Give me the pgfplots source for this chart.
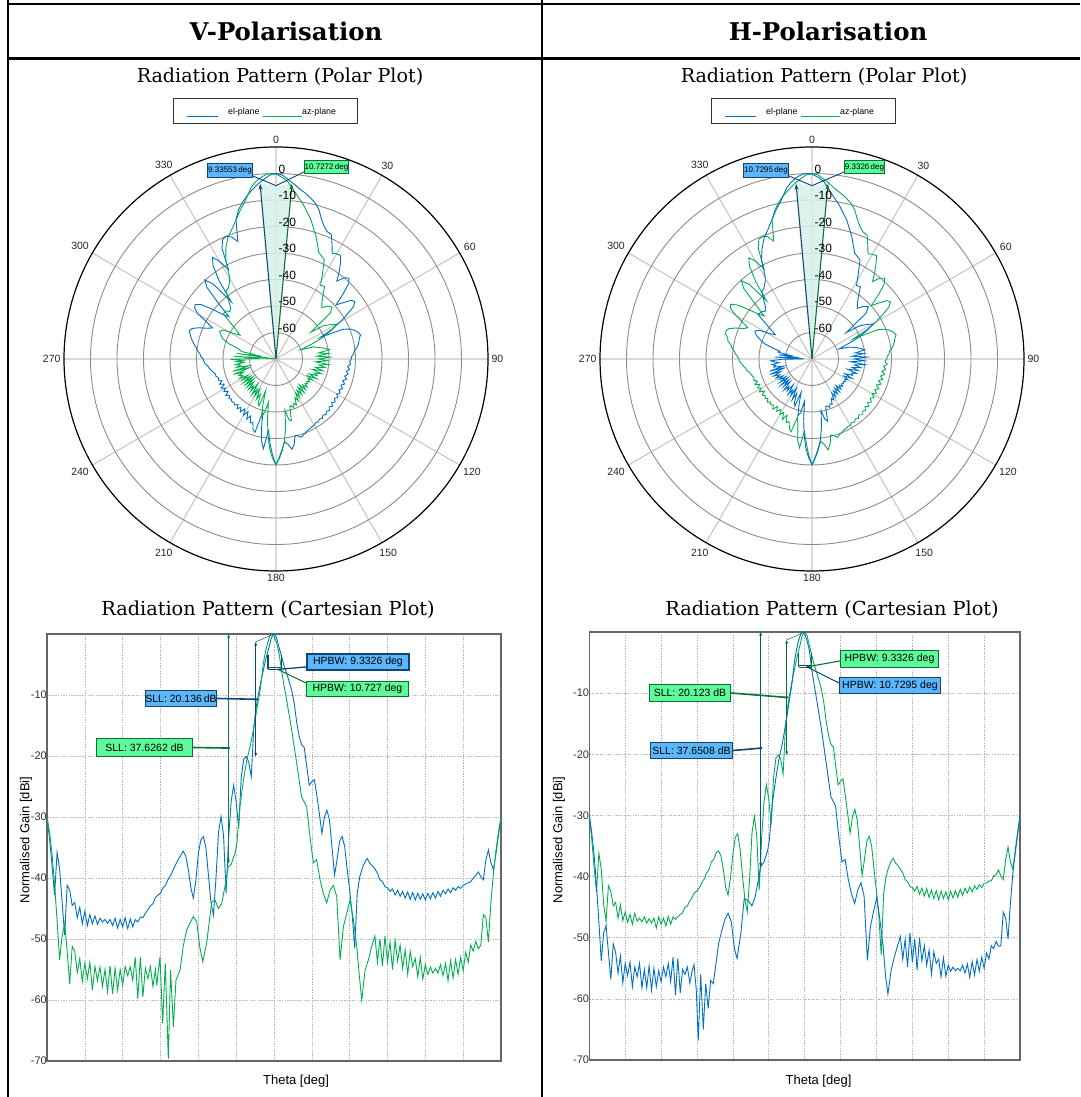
\documentclass[border=0pt]{standalone}
\usepackage{pgfplots}
\pgfplotsset{compat=1.18}
\usepgfplotslibrary{polar}
\usepackage{pgfplotstable}
\usepackage{fontspec}
\setmainfont{DejaVu Serif}
\newfontfamily\sansf{Liberation Sans}
\usetikzlibrary{arrows.meta}

\definecolor{cblue}{RGB}{0,112,200}
\definecolor{cgreen}{RGB}{0,176,80}
\definecolor{bfill}{RGB}{92,182,250}
\definecolor{bdark}{RGB}{18,68,118}
\definecolor{gfill}{RGB}{92,250,152}
\definecolor{gdark}{RGB}{10,112,52}
\definecolor{wedge}{RGB}{214,240,234}

% ---- V-Polarisation, el-plane (blue) ----
\pgfplotstableread[row sep=\\]{
t g\\
-180 -30.0\\ -178 -33.5\\ -176 -38.0\\ -174 -42.8\\ -172 -35.8\\ -170 -38.5\\ -168 -44.0\\ -166 -49.3\\
-164 -41.2\\ -162 -42.0\\ -160 -44.5\\ -158 -44.0\\ -156 -46.5\\ -154 -44.8\\ -152 -47.5\\ -150 -45.5\\
-148 -47.8\\ -146 -46.0\\ -144 -47.5\\ -142 -46.2\\ -140 -47.6\\ -138 -46.6\\ -136 -47.2\\ -134 -46.8\\
-132 -47.4\\ -130 -46.8\\ -128 -47.8\\ -126 -46.6\\ -124 -48.2\\ -122 -46.8\\ -120 -48.0\\ -118 -46.5\\
-116 -48.3\\ -114 -46.7\\ -112 -48.0\\ -110 -46.8\\ -108 -47.2\\ -106 -46.4\\ -104 -46.5\\ -102 -45.8\\
-100 -45.2\\ -98 -44.6\\ -96 -44.2\\ -94 -43.2\\ -92 -42.8\\ -90 -42.5\\ -88 -41.6\\ -86 -41.2\\
-84 -40.2\\ -82 -39.6\\ -80 -38.7\\ -78 -37.8\\ -76 -37.0\\ -74 -36.3\\ -72 -35.6\\ -70 -36.4\\
-68 -38.5\\ -66 -41.5\\ -64 -43.3\\ -62 -40.5\\ -60 -36.0\\ -58 -33.8\\ -56 -33.2\\ -54 -35.0\\
-52 -39.5\\ -50 -44.0\\ -48 -46.1\\ -46 -40.0\\ -44 -32.5\\ -42 -29.9\\ -40 -33.0\\ -38 -42.5\\
-36 -33.5\\ -34 -27.5\\ -32 -24.8\\ -30 -27.5\\ -28 -31.8\\ -26 -23.5\\ -24 -20.5\\ -22 -20.1\\
-20 -21.0\\ -18 -23.4\\ -16 -15.2\\ -14 -11.8\\ -12 -9.5\\ -10 -7.4\\ -8 -5.5\\ -6 -3.7\\
-4 -2.2\\ -2 -0.6\\ 0 0.0\\ 2 -0.6\\ 4 -2.2\\ 6 -3.7\\ 8 -5.3\\ 10 -6.4\\
12 -7.8\\ 14 -9.2\\ 16 -11.3\\ 18 -14.5\\ 20 -16.8\\ 22 -18.2\\ 24 -18.6\\ 26 -21.8\\
28 -24.8\\ 30 -24.2\\ 32 -23.9\\ 34 -26.5\\ 36 -29.5\\ 38 -32.7\\ 40 -30.0\\ 42 -28.9\\
44 -30.5\\ 46 -35.0\\ 48 -39.5\\ 50 -37.0\\ 52 -34.0\\ 54 -33.2\\ 56 -34.8\\ 58 -38.5\\
60 -42.0\\ 62 -46.0\\ 64 -51.5\\ 66 -42.5\\ 68 -39.8\\ 70 -38.4\\ 72 -37.4\\ 74 -36.8\\
76 -37.6\\ 78 -38.0\\ 80 -38.5\\ 82 -39.2\\ 84 -40.3\\ 86 -40.6\\ 88 -41.4\\ 90 -41.6\\
92 -42.2\\ 94 -41.8\\ 96 -42.8\\ 98 -42.0\\ 100 -43.0\\ 102 -42.2\\ 104 -43.3\\ 106 -42.3\\
108 -43.5\\ 110 -42.4\\ 112 -43.6\\ 114 -42.5\\ 116 -43.5\\ 118 -42.6\\ 120 -43.6\\ 122 -42.5\\
124 -43.4\\ 126 -42.4\\ 128 -43.3\\ 130 -42.2\\ 132 -43.0\\ 134 -42.0\\ 136 -42.6\\ 138 -41.8\\
140 -42.4\\ 142 -41.6\\ 144 -42.0\\ 146 -41.4\\ 148 -41.7\\ 150 -41.2\\ 152 -41.0\\ 154 -40.8\\
156 -40.6\\ 158 -40.0\\ 160 -39.6\\ 162 -39.0\\ 164 -39.8\\ 166 -40.3\\ 168 -37.0\\ 170 -35.4\\
172 -37.5\\ 174 -38.6\\ 176 -36.0\\ 178 -33.0\\ 180 -30.0\\
}\Vblue

% ---- V-Polarisation, az-plane (green) ----
\pgfplotstableread[row sep=\\]{
t g\\
-180 -30.0\\ -178 -32.5\\ -176 -36.0\\ -174 -41.0\\ -172 -47.0\\ -170 -53.4\\ -168 -49.5\\ -166 -47.5\\
-164 -52.0\\ -162 -57.4\\ -160 -51.2\\ -158 -52.0\\ -156 -55.5\\ -154 -53.2\\ -152 -57.0\\ -150 -54.0\\
-148 -56.5\\ -146 -53.8\\ -144 -58.4\\ -142 -54.5\\ -140 -56.8\\ -138 -54.6\\ -136 -57.8\\ -134 -55.0\\
-132 -58.6\\ -130 -54.4\\ -128 -59.0\\ -126 -54.8\\ -124 -58.4\\ -122 -55.0\\ -120 -57.6\\ -118 -54.5\\
-116 -56.0\\ -114 -54.6\\ -112 -56.8\\ -110 -53.0\\ -108 -59.8\\ -106 -53.0\\ -104 -59.5\\ -102 -54.8\\
-100 -56.5\\ -98 -54.5\\ -96 -57.8\\ -94 -55.0\\ -93 -57.6\\ -90.4 -52.9\\ -88.3 -63.8\\ -86.2 -54.0\\
-83.8 -69.6\\ -82 -55.1\\ -79.8 -64.4\\ -77.7 -56.7\\ -74.5 -55.1\\ -72 -51.2\\ -69.2 -48.5\\ -66.6 -47.4\\
-64 -46.3\\ -61.3 -47.2\\ -58.7 -51.5\\ -56.5 -53.7\\ -53.4 -50.7\\ -49.4 -43.9\\ -46.8 -43.6\\ -44.1 -45.0\\
-41.5 -44.2\\ -38.9 -41.4\\ -36.2 -38.1\\ -34 -37.8\\ -31 -36.0\\ -29.6 -34.6\\ -27 -28.3\\ -24.3 -24.0\\
-21.6 -20.7\\ -19 -18.5\\ -16.3 -15.7\\ -13.7 -12.5\\ -11 -9.2\\ -8.4 -4.8\\ -6.9 -3.0\\ -5 -1.4\\
-3 -0.2\\ -1.5 0.0\\ 0 -0.3\\ 2 -1.4\\ 3.9 -3.0\\ 6 -6.0\\ 8 -8.5\\ 10 -10.8\\
14 -15.7\\ 18 -21.2\\ 21.9 -26.7\\ 25.9 -28.3\\ 28.5 -33.2\\ 31.2 -37.5\\ 33.8 -37.0\\ 36.5 -40.3\\
39.1 -42.5\\ 41.8 -44.1\\ 44.4 -42.0\\ 47.1 -41.2\\ 49.7 -43.0\\ 52.4 -53.4\\ 55 -48.0\\ 57.7 -45.8\\
60.3 -43.6\\ 63 -46.9\\ 65.6 -51.2\\ 67.7 -56.1\\ 69.6 -60.0\\ 72.2 -55.1\\ 74.9 -53.4\\ 77.5 -51.2\\
80 -49.5\\ 82 -53.8\\ 84 -50.0\\ 86 -54.5\\ 88 -49.5\\ 90 -53.8\\ 92 -50.5\\ 94 -55.0\\
96 -50.2\\ 98 -53.6\\ 100 -51.0\\ 102 -54.8\\ 104 -51.8\\ 106 -55.8\\ 108 -52.0\\ 110 -54.5\\
112 -53.2\\ 114 -56.2\\ 116 -53.0\\ 118 -56.6\\ 120 -54.2\\ 122 -55.8\\ 124 -54.6\\ 126 -55.6\\
128 -54.8\\ 130 -55.6\\ 132 -54.2\\ 134 -56.0\\ 136 -54.0\\ 138 -56.8\\ 140 -53.6\\ 142 -56.4\\
144 -53.4\\ 146 -55.8\\ 148 -53.0\\ 150 -55.2\\ 152 -52.2\\ 154 -53.8\\ 156 -51.0\\ 158 -52.0\\
160 -50.4\\ 162 -51.6\\ 164 -51.0\\ 166 -46.0\\ 168 -46.5\\ 170 -50.5\\ 172 -44.0\\ 174 -39.2\\
176 -35.5\\ 178 -32.5\\ 180 -30.0\\
}\Vgreen

% ---- H-Polarisation, az-plane (green) ----
\pgfplotstableread[row sep=\\]{
t g\\
-180 -30.0\\ -178 -33.8\\ -176 -38.5\\ -174 -42.5\\ -172 -36.2\\ -170 -38.8\\ -168 -44.5\\ -166 -47.3\\
-164 -41.5\\ -162 -42.4\\ -160 -44.8\\ -158 -44.2\\ -156 -46.8\\ -154 -44.6\\ -152 -47.2\\ -150 -45.8\\
-148 -47.5\\ -146 -46.2\\ -144 -47.8\\ -142 -46.0\\ -140 -47.3\\ -138 -46.8\\ -136 -47.4\\ -134 -46.6\\
-132 -47.6\\ -130 -46.9\\ -128 -47.6\\ -126 -46.8\\ -124 -48.4\\ -122 -46.6\\ -120 -47.8\\ -118 -46.8\\
-116 -48.1\\ -114 -46.5\\ -112 -47.8\\ -110 -46.6\\ -108 -47.0\\ -106 -46.6\\ -104 -46.2\\ -102 -45.9\\
-100 -45.0\\ -98 -44.8\\ -96 -44.0\\ -94 -43.4\\ -92 -42.6\\ -90 -42.4\\ -88 -41.8\\ -86 -41.0\\
-84 -40.4\\ -82 -39.4\\ -80 -38.9\\ -78 -37.6\\ -76 -37.2\\ -74 -36.1\\ -72 -35.8\\ -70 -36.6\\
-68 -38.8\\ -66 -41.8\\ -64 -43.0\\ -62 -40.2\\ -60 -36.4\\ -58 -33.6\\ -56 -33.0\\ -54 -35.4\\
-52 -39.8\\ -50 -43.6\\ -48 -45.8\\ -46 -40.4\\ -44 -32.8\\ -42 -30.2\\ -40 -33.4\\ -38 -42.2\\
-36 -33.8\\ -34 -27.8\\ -32 -25.0\\ -30 -27.2\\ -28 -31.5\\ -26 -23.8\\ -24 -20.6\\ -22 -20.1\\
-20 -20.8\\ -18 -23.2\\ -16 -15.4\\ -14 -12.0\\ -12 -9.6\\ -10 -7.5\\ -8 -5.6\\ -6 -3.8\\
-4 -2.2\\ -2 -0.6\\ 0 0.0\\ 2 -0.6\\ 4 -2.2\\ 6 -3.8\\ 8 -5.4\\ 10 -6.6\\
12 -7.9\\ 14 -9.4\\ 16 -11.5\\ 18 -14.6\\ 20 -16.9\\ 22 -18.4\\ 24 -18.8\\ 26 -22.0\\
28 -25.0\\ 30 -24.4\\ 32 -24.0\\ 34 -26.8\\ 36 -29.8\\ 38 -32.9\\ 40 -30.2\\ 42 -29.0\\
44 -30.8\\ 46 -35.2\\ 48 -39.8\\ 50 -37.2\\ 52 -34.2\\ 54 -33.4\\ 56 -35.0\\ 58 -38.8\\
60 -42.4\\ 62 -46.4\\ 64 -52.8\\ 66 -42.8\\ 68 -40.0\\ 70 -38.6\\ 72 -37.6\\ 74 -37.0\\
76 -37.8\\ 78 -38.2\\ 80 -38.8\\ 82 -39.4\\ 84 -40.5\\ 86 -40.8\\ 88 -41.6\\ 90 -41.8\\
92 -42.4\\ 94 -41.6\\ 96 -42.9\\ 98 -41.9\\ 100 -43.2\\ 102 -42.0\\ 104 -43.4\\ 106 -42.2\\
108 -43.6\\ 110 -42.3\\ 112 -43.8\\ 114 -42.4\\ 116 -43.6\\ 118 -42.5\\ 120 -43.8\\ 122 -42.4\\
124 -43.5\\ 126 -42.3\\ 128 -43.4\\ 130 -42.1\\ 132 -43.1\\ 134 -41.9\\ 136 -42.7\\ 138 -41.7\\
140 -42.5\\ 142 -41.5\\ 144 -42.1\\ 146 -41.3\\ 148 -41.8\\ 150 -41.1\\ 152 -41.1\\ 154 -40.7\\
156 -40.7\\ 158 -39.9\\ 160 -39.7\\ 162 -38.9\\ 164 -39.9\\ 166 -40.5\\ 168 -37.2\\ 170 -35.2\\
172 -37.6\\ 174 -38.8\\ 176 -36.2\\ 178 -33.2\\ 180 -30.0\\
}\Hgreen

% ---- H-Polarisation, el-plane (blue) ----
\pgfplotstableread[row sep=\\]{
t g\\
-180 -30.0\\ -178 -32.8\\ -176 -36.4\\ -174 -41.4\\ -172 -47.4\\ -170 -53.8\\ -168 -49.2\\ -166 -48.0\\
-164 -52.4\\ -162 -56.8\\ -160 -51.0\\ -158 -52.4\\ -156 -55.8\\ -154 -53.0\\ -152 -57.4\\ -150 -54.2\\
-148 -56.2\\ -146 -54.0\\ -144 -58.0\\ -142 -54.8\\ -140 -56.4\\ -138 -54.2\\ -136 -58.2\\ -134 -55.2\\
-132 -58.2\\ -130 -54.6\\ -128 -58.6\\ -126 -55.0\\ -124 -58.0\\ -122 -55.4\\ -120 -57.2\\ -118 -54.8\\
-116 -56.4\\ -114 -54.2\\ -112 -57.2\\ -110 -53.2\\ -108 -59.4\\ -106 -53.4\\ -104 -59.0\\ -102 -55.2\\
-100 -56.0\\ -98 -54.8\\ -96 -57.4\\ -94 -55.4\\ -92.5 -54.4\\ -90.6 -58.5\\ -88.9 -66.8\\ -86.9 -56.0\\
-84.7 -65.0\\ -82.7 -57.5\\ -80.6 -61.6\\ -78.6 -57.0\\ -76.4 -57.5\\ -74.5 -54.8\\ -72 -51.0\\ -69.2 -48.8\\
-66.6 -47.0\\ -64 -46.0\\ -61.3 -47.4\\ -58.7 -51.8\\ -56.5 -53.4\\ -53.4 -49.4\\ -50.5 -43.6\\ -46.8 -44.0\\
-44.1 -44.8\\ -41.5 -43.4\\ -38.9 -40.8\\ -36.8 -38.4\\ -34 -37.6\\ -31 -35.8\\ -29.6 -34.2\\ -27 -28.0\\
-24.3 -24.2\\ -21.6 -20.9\\ -19 -18.6\\ -16.3 -15.6\\ -13.7 -12.3\\ -11 -9.0\\ -8.4 -4.7\\ -6.9 -3.0\\
-5 -1.3\\ -3 -0.2\\ -1.5 0.0\\ 0 -0.3\\ 2 -1.4\\ 3.9 -3.0\\ 6 -6.2\\ 8 -8.7\\
10 -11.0\\ 14 -15.9\\ 18 -21.4\\ 21.9 -26.9\\ 25.9 -28.5\\ 28.5 -33.4\\ 31.2 -37.6\\ 33.8 -37.2\\
36.5 -40.5\\ 39.1 -42.8\\ 41.8 -44.4\\ 44.4 -42.2\\ 47.1 -41.0\\ 49.7 -43.2\\ 52.4 -53.7\\ 55 -48.2\\
57.7 -45.6\\ 60.3 -43.4\\ 63 -47.2\\ 65.6 -51.5\\ 67.7 -56.4\\ 69.6 -59.2\\ 72.2 -55.4\\ 74.9 -53.2\\
77.5 -51.4\\ 80 -49.8\\ 82 -53.5\\ 84 -50.3\\ 86 -54.8\\ 88 -49.2\\ 90 -54.0\\ 92 -50.2\\
94 -55.3\\ 96 -50.0\\ 98 -53.8\\ 100 -51.3\\ 102 -54.5\\ 104 -52.0\\ 106 -56.0\\ 108 -52.3\\
110 -54.2\\ 112 -53.5\\ 114 -56.4\\ 116 -53.3\\ 118 -56.3\\ 120 -54.5\\ 122 -55.5\\ 124 -54.8\\
126 -55.4\\ 128 -55.0\\ 130 -55.4\\ 132 -54.5\\ 134 -55.8\\ 136 -54.3\\ 138 -56.5\\ 140 -53.9\\
142 -56.1\\ 144 -53.6\\ 146 -55.5\\ 148 -53.2\\ 150 -55.0\\ 152 -52.5\\ 154 -53.5\\ 156 -51.3\\
158 -51.8\\ 160 -50.6\\ 162 -51.4\\ 164 -51.3\\ 166 -45.8\\ 168 -46.8\\ 170 -50.2\\ 172 -44.3\\
174 -39.5\\ 176 -35.8\\ 178 -32.8\\ 180 -30.0\\
}\Hblue

\pgfplotsset{
  mypolar/.style={
    scale only axis, width=424pt, height=424pt, anchor=center,
    xmin=0, xmax=360, ymin=0, ymax=80,
    xtick={0,30,...,330},
    xticklabels={90,60,30,0,330,300,270,240,210,180,150,120},
    ytick={10,20,...,70}, yticklabel=\empty,
    xmajorgrids, ymajorgrids,
    major x grid style={black!22, line width=1.1pt},
    major y grid style={black!45, line width=0.9pt},
    axis line style={black, line width=1.2pt},
    y axis line style={draw=none},
    tick style={draw=none},
    xticklabel style={font=\sansf\fontsize{10.5}{12}\selectfont, text=black!85},
  },
  mycart/.style={
    scale only axis, anchor=south west,
    xmin=-180, xmax=180, ymin=-70, ymax=0,
    xtick={-150,-120,...,150}, xticklabels={},
    ytick={-70,-60,...,-10},
    yticklabels={-70,-60,-50,-40,-30,-20,-10},
    grid=major,
    grid style={black!28, dash pattern=on 1.5pt off 1.2pt, line width=0.6pt},
    axis line style={black!60, line width=1.3pt},
    tick style={draw=none},
    yticklabel style={font=\sansf\fontsize{11}{13}\selectfont, text=black!80, inner sep=0pt, anchor=east},
  },
  pline/.style={line width=0.9pt},
}

\tikzset{
  bbox/.style={draw=bdark, fill=bfill, line width=1.5pt, inner sep=0pt, font=\sansf\fontsize{10.5}{12}\selectfont},
  gbox/.style={draw=gdark, fill=gfill, line width=1.5pt, inner sep=0pt, font=\sansf\fontsize{10.5}{12}\selectfont},
  pbbox/.style={draw=bdark, fill=bfill, line width=1.2pt, inner sep=0pt, font=\sansf\fontsize{8}{9}\selectfont},
  pgbox/.style={draw=gdark, fill=gfill, line width=1.2pt, inner sep=0pt, font=\sansf\fontsize{8}{9}\selectfont},
  dot/.style={circle, fill, inner sep=0pt, minimum size=3.6pt},
  rlab/.style={anchor=south west, inner sep=0pt, xshift=2.5pt, font=\sansf\fontsize{12}{13}\selectfont},
}

\begin{document}
\begin{tikzpicture}[x=1pt,y=1pt]
\useasboundingbox (0,0) rectangle (1080,1097);
\fill[white] (0,0) rectangle (1080,1097);

% ---- table frame ----
\draw[line width=2.4pt] (7,1093) -- (1080,1093);
\draw[line width=2.2pt] (7,1038.5) -- (1080,1038.5);
\draw[line width=2pt] (7.5,1097) -- (7.5,0);
\draw[line width=2pt] (542,1097) -- (542,0);

\node at (286,1066) {\fontsize{24.4}{27}\selectfont\bfseries V-Polarisation};
\node at (828,1066) {\fontsize{24.4}{27}\selectfont\bfseries H-Polarisation};
\node at (280,1020) {\fontsize{19.1}{22}\selectfont Radiation Pattern (Polar Plot)};
\node at (824,1020) {\fontsize{19.1}{22}\selectfont Radiation Pattern (Polar Plot)};
\node at (268,487) {\fontsize{19.3}{22}\selectfont Radiation Pattern (Cartesian Plot)};
\node at (832,487) {\fontsize{19.3}{22}\selectfont Radiation Pattern (Cartesian Plot)};

% ---- legends of the polar plots ----
\foreach \ox in {0,538}{
  \draw[black!80, line width=0.8pt] (173+\ox,974) rectangle (357+\ox,999);
  \draw[cblue, line width=1pt] (187+\ox,980) -- (218+\ox,980);
  \draw[cgreen, line width=1pt] (263+\ox,980) -- (302+\ox,980);
  \node[anchor=west, inner sep=0pt, font=\sansf\fontsize{8.8}{10}\selectfont] at (228+\ox,984.5) {el-plane};
  \node[anchor=west, inner sep=0pt, font=\sansf\fontsize{8.8}{10}\selectfont] at (302+\ox,984.5) {az-plane};
}

% ================= V polar =================
\begin{polaraxis}[mypolar, at={(276pt,738pt)}]
\fill[wedge, opacity=0.85] (axis cs:0,0) -- (axis cs:95.2,66.4) -- (axis cs:90,65.4) -- (axis cs:84.8,66.4) -- cycle;
\addplot[pline, cblue, no marks] table[x expr=90-\thisrow{t}, y expr=\thisrow{g}+70] {\Vblue};
\addplot[pline, cgreen, no marks] table[x expr=90-\thisrow{t}, y expr=\thisrow{g}+70] {\Vgreen};
\draw[bdark!80!gdark, line width=1.1pt, -{Stealth[length=6pt,width=4pt]}] (axis cs:0,0) -- (axis cs:95.2,66.4);
\draw[gdark, line width=1.1pt, -{Stealth[length=6pt,width=4pt]}] (axis cs:0,0) -- (axis cs:84.8,66.4);
\coordinate (vp) at (axis cs:90,65.4);
\node[rlab] at (axis cs:90,70) {0};
\node[rlab] at (axis cs:90,60) {-10};
\node[rlab] at (axis cs:90,50) {-20};
\node[rlab] at (axis cs:90,40) {-30};
\node[rlab] at (axis cs:90,30) {-40};
\node[rlab] at (axis cs:90,20) {-50};
\node[rlab] at (axis cs:90,10) {-60};
\end{polaraxis}
\draw[bdark, line width=0.9pt] (253,921) -- (vp) -- (304,925);
\node[pbbox, minimum width=45pt, minimum height=14pt] at (230,926.5) {9.33553\,deg};
\node[pgbox, minimum width=44pt, minimum height=13pt] at (326.5,930) {10.7272\,deg};

% ================= H polar =================
\begin{polaraxis}[mypolar, at={(812pt,738pt)}]
\fill[wedge, opacity=0.85] (axis cs:0,0) -- (axis cs:95.2,66.4) -- (axis cs:90,65.4) -- (axis cs:84.8,66.4) -- cycle;
\addplot[pline, cgreen, no marks] table[x expr=90-\thisrow{t}, y expr=\thisrow{g}+70] {\Hgreen};
\addplot[pline, cblue, no marks] table[x expr=90-\thisrow{t}, y expr=\thisrow{g}+70] {\Hblue};
\draw[bdark!80!gdark, line width=1.1pt, -{Stealth[length=6pt,width=4pt]}] (axis cs:0,0) -- (axis cs:95.2,66.4);
\draw[gdark, line width=1.1pt, -{Stealth[length=6pt,width=4pt]}] (axis cs:0,0) -- (axis cs:84.8,66.4);
\coordinate (hp) at (axis cs:90,65.4);
\node[rlab] at (axis cs:90,70) {0};
\node[rlab] at (axis cs:90,60) {-10};
\node[rlab] at (axis cs:90,50) {-20};
\node[rlab] at (axis cs:90,40) {-30};
\node[rlab] at (axis cs:90,30) {-40};
\node[rlab] at (axis cs:90,20) {-50};
\node[rlab] at (axis cs:90,10) {-60};
\end{polaraxis}
\draw[bdark, line width=0.9pt] (789,921) -- (hp) -- (844,925);
\node[pbbox, minimum width=45pt, minimum height=14pt] at (766,926.5) {10.7295\,deg};
\node[pgbox, minimum width=40pt, minimum height=13pt] at (864.5,930) {9.3326\,deg};

% ================= V Cartesian =================
\begin{axis}[mycart, at={(47pt,36pt)}, width=454pt, height=427pt]
\addplot[pline, cblue, no marks] table[x=t, y=g] {\Vblue};
\addplot[pline, cgreen, no marks] table[x=t, y=g] {\Vgreen};
\draw[bdark, line width=0.5pt] (axis cs:-14.5,-1.3) -- (axis cs:0,0);
\draw[bdark, line width=0.9pt, {Stealth[length=4pt,width=3pt]}-{Stealth[length=4pt,width=3pt]}] (axis cs:-14.5,-1.3) -- (axis cs:-14.5,-20.1);
\draw[gdark!70!cgreen, line width=0.9pt, {Stealth[length=4pt,width=3pt]}-{Stealth[length=4pt,width=3pt]}] (axis cs:-36,0) -- (axis cs:-36,-37.6);
\coordinate (vsb) at (axis cs:-14.5,-10.7);
\coordinate (vsg) at (axis cs:-36,-18.7);
\draw[bdark, line width=1.1pt] (axis cs:-4.8,-3.4) -- (axis cs:-4.8,-5.8);
\draw[bdark, line width=1.1pt] (axis cs:6,-3.4) -- (axis cs:6,-5.8);
\draw[bdark, line width=1.3pt] (axis cs:-4.8,-5.8) -- (axis cs:6,-5.8);
\draw[gdark, line width=0.8pt] (axis cs:-5.5,-5.5) -- (axis cs:5.5,-5.5);
\coordinate (vhp) at (axis cs:3,-5.8);
\end{axis}
\draw[bdark, line width=1.6pt] (217,398.5) -- (vsb);
\node[dot, bdark] at (vsb) {};
\draw[gdark, line width=1.6pt] (193,349.5) -- (vsg);
\node[dot, gdark] at (vsg) {};
\node[bbox, minimum width=71pt, minimum height=16pt] at (181,398.5) {SLL: 20.136\,dB};
\node[gbox, minimum width=96pt, minimum height=18pt] at (144.5,349.5) {SLL: 37.6262 dB};
\draw[bdark, line width=1.3pt] (306,430) -- (vhp);
\draw[gdark, line width=1pt] (306,414) -- (vhp);
\node[bbox, line width=2.5pt, minimum width=102pt, minimum height=16pt] at (358,435) {HPBW: 9.3326 deg};
\node[gbox, minimum width=102pt, minimum height=15pt] at (357.5,408) {HPBW: 10.727 deg};
\node[font=\sansf\fontsize{13}{15}\selectfont, rotate=90] at (26,257) {Normalised Gain [dBi]};
\node[font=\sansf\fontsize{13}{15}\selectfont] at (296,16) {Theta [deg]};

% ================= H Cartesian =================
\begin{axis}[mycart, at={(589.3pt,37pt)}, width=430.7pt, height=428pt]
\addplot[pline, cgreen, no marks] table[x=t, y=g] {\Hgreen};
\addplot[pline, cblue, no marks] table[x=t, y=g] {\Hblue};
\draw[gdark, line width=0.5pt] (axis cs:-15,-1.3) -- (axis cs:0,0);
\draw[gdark, line width=0.9pt, {Stealth[length=4pt,width=3pt]}-{Stealth[length=4pt,width=3pt]}] (axis cs:-15,-1.3) -- (axis cs:-15,-20.1);
\draw[bdark!70!cblue, line width=0.9pt, {Stealth[length=4pt,width=3pt]}-{Stealth[length=4pt,width=3pt]}] (axis cs:-36.8,0) -- (axis cs:-36.8,-38.4);
\coordinate (hsg) at (axis cs:-15,-10.7);
\coordinate (hsb) at (axis cs:-36.8,-19.0);
\draw[gdark, line width=1.1pt] (axis cs:-4.8,-3.4) -- (axis cs:-4.8,-5.8);
\draw[gdark, line width=1.1pt] (axis cs:6,-3.4) -- (axis cs:6,-5.8);
\draw[gdark, line width=1.3pt] (axis cs:-4.8,-5.8) -- (axis cs:6,-5.8);
\draw[bdark, line width=0.8pt] (axis cs:-5.5,-5.5) -- (axis cs:5.5,-5.5);
\coordinate (hhp) at (axis cs:1.7,-5.7);
\end{axis}
\draw[gdark, line width=1.6pt] (731,404) -- (hsg);
\node[dot, gdark] at (hsg) {};
\draw[bdark, line width=1.6pt] (733,346.5) -- (hsb);
\node[dot, bdark] at (hsb) {};
\node[gbox, minimum width=81pt, minimum height=17pt] at (690,404) {SLL: 20.123 dB};
\node[bbox, minimum width=82pt, minimum height=16pt] at (691.5,346.5) {SLL: 37.6508 dB};
\draw[gdark, line width=1.1pt] (840,436) -- (hhp);
\draw[bdark, line width=1.1pt] (839,414) -- (hhp);
\node[gbox, minimum width=98pt, minimum height=17pt] at (889.5,438) {HPBW: 9.3326 deg};
\node[bbox, minimum width=101pt, minimum height=16pt] at (890,411.5) {HPBW: 10.7295 deg};
\node[font=\sansf\fontsize{13}{15}\selectfont, rotate=90] at (559,257) {Normalised Gain [dBi]};
\node[font=\sansf\fontsize{13}{15}\selectfont] at (818.5,16) {Theta [deg]};
\end{tikzpicture}
\end{document}
